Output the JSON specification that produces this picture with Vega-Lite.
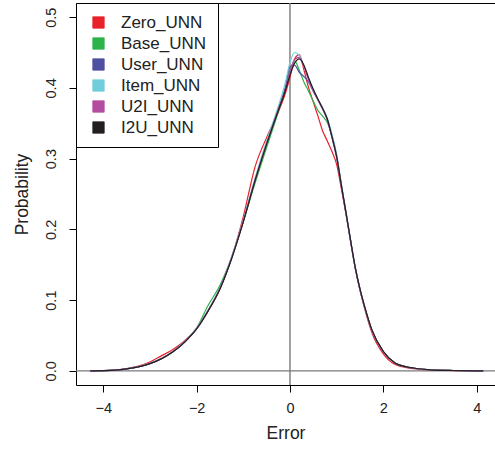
{
"$schema": "https://vega.github.io/schema/vega-lite/v6.json",
"width": 419, "height": 382,
"autosize": {"type": "none"},
"padding": {"left": 76, "top": 3, "right": 0, "bottom": 66},
"background": "white",
"config": {"view": {"stroke": null}, "font": "Liberation Sans",
 "axis": {"grid": false, "domainColor": "#000", "tickColor": "#000", "labelColor": "#222", "titleColor": "#222", "titleFontWeight": "normal", "labelFlush": false}},
"resolve": {"axis": {"x": "independent"}},
"layer": [
 {"data": {"values": [{}]}, "mark": {"type": "rule", "color": "#7a7a7a", "strokeWidth": 1.4},
  "encoding": {"y": {"datum": 0, "type": "quantitative"}}},
 {"data": {"values": [{}]}, "mark": {"type": "rule", "color": "#7a7a7a", "strokeWidth": 1.4},
  "encoding": {"x": {"datum": 0, "type": "quantitative", "axis": {"orient": "top", "labels": false, "ticks": false, "domain": true, "title": null}}}},
 {"data": {"values": [
{"m":"Zero_UNN","x":-4.28,"p":0},{"m":"Zero_UNN","x":-4.0,"p":0.0003},{"m":"Zero_UNN","x":-3.75,"p":0.0012},{"m":"Zero_UNN","x":-3.5,"p":0.0032},{"m":"Zero_UNN","x":-3.25,"p":0.0068},{"m":"Zero_UNN","x":-3.0,"p":0.0125},{"m":"Zero_UNN","x":-2.75,"p":0.0215},{"m":"Zero_UNN","x":-2.5,"p":0.0305},{"m":"Zero_UNN","x":-2.25,"p":0.043},{"m":"Zero_UNN","x":-2.0,"p":0.06},{"m":"Zero_UNN","x":-1.75,"p":0.085},{"m":"Zero_UNN","x":-1.5,"p":0.116},{"m":"Zero_UNN","x":-1.25,"p":0.16},{"m":"Zero_UNN","x":-1.0,"p":0.218},{"m":"Zero_UNN","x":-0.75,"p":0.288},{"m":"Zero_UNN","x":-0.5,"p":0.33},{"m":"Zero_UNN","x":-0.25,"p":0.366},{"m":"Zero_UNN","x":-0.1,"p":0.392},{"m":"Zero_UNN","x":0.0,"p":0.415},{"m":"Zero_UNN","x":0.1,"p":0.441},{"m":"Zero_UNN","x":0.2,"p":0.447},{"m":"Zero_UNN","x":0.3,"p":0.425},{"m":"Zero_UNN","x":0.4,"p":0.4},{"m":"Zero_UNN","x":0.5,"p":0.38},{"m":"Zero_UNN","x":0.6,"p":0.36},{"m":"Zero_UNN","x":0.7,"p":0.339},{"m":"Zero_UNN","x":0.8,"p":0.325},{"m":"Zero_UNN","x":0.9,"p":0.31},{"m":"Zero_UNN","x":1.0,"p":0.292},{"m":"Zero_UNN","x":1.1,"p":0.258},{"m":"Zero_UNN","x":1.2,"p":0.222},{"m":"Zero_UNN","x":1.3,"p":0.183},{"m":"Zero_UNN","x":1.4,"p":0.145},{"m":"Zero_UNN","x":1.5,"p":0.114},{"m":"Zero_UNN","x":1.6,"p":0.088},{"m":"Zero_UNN","x":1.75,"p":0.055},{"m":"Zero_UNN","x":2.0,"p":0.024},{"m":"Zero_UNN","x":2.25,"p":0.009},{"m":"Zero_UNN","x":2.5,"p":0.0045},{"m":"Zero_UNN","x":2.75,"p":0.0025},{"m":"Zero_UNN","x":3.0,"p":0.0013},{"m":"Zero_UNN","x":3.5,"p":0.0004},{"m":"Zero_UNN","x":4.0,"p":0.0001},{"m":"Zero_UNN","x":4.14,"p":0},
{"m":"Base_UNN","x":-4.28,"p":0},{"m":"Base_UNN","x":-4.0,"p":0.0003},{"m":"Base_UNN","x":-3.75,"p":0.001},{"m":"Base_UNN","x":-3.5,"p":0.0028},{"m":"Base_UNN","x":-3.25,"p":0.0058},{"m":"Base_UNN","x":-3.0,"p":0.0105},{"m":"Base_UNN","x":-2.75,"p":0.0175},{"m":"Base_UNN","x":-2.5,"p":0.0275},{"m":"Base_UNN","x":-2.25,"p":0.0415},{"m":"Base_UNN","x":-2.0,"p":0.061},{"m":"Base_UNN","x":-1.75,"p":0.093},{"m":"Base_UNN","x":-1.5,"p":0.121},{"m":"Base_UNN","x":-1.25,"p":0.161},{"m":"Base_UNN","x":-1.0,"p":0.211},{"m":"Base_UNN","x":-0.75,"p":0.265},{"m":"Base_UNN","x":-0.5,"p":0.316},{"m":"Base_UNN","x":-0.25,"p":0.366},{"m":"Base_UNN","x":-0.1,"p":0.399},{"m":"Base_UNN","x":0.0,"p":0.425},{"m":"Base_UNN","x":0.1,"p":0.438},{"m":"Base_UNN","x":0.2,"p":0.425},{"m":"Base_UNN","x":0.3,"p":0.408},{"m":"Base_UNN","x":0.4,"p":0.395},{"m":"Base_UNN","x":0.5,"p":0.381},{"m":"Base_UNN","x":0.6,"p":0.368},{"m":"Base_UNN","x":0.7,"p":0.36},{"m":"Base_UNN","x":0.8,"p":0.351},{"m":"Base_UNN","x":0.9,"p":0.333},{"m":"Base_UNN","x":1.0,"p":0.304},{"m":"Base_UNN","x":1.1,"p":0.262},{"m":"Base_UNN","x":1.2,"p":0.223},{"m":"Base_UNN","x":1.3,"p":0.183},{"m":"Base_UNN","x":1.4,"p":0.145},{"m":"Base_UNN","x":1.5,"p":0.115},{"m":"Base_UNN","x":1.6,"p":0.09},{"m":"Base_UNN","x":1.75,"p":0.058},{"m":"Base_UNN","x":2.0,"p":0.027},{"m":"Base_UNN","x":2.25,"p":0.011},{"m":"Base_UNN","x":2.5,"p":0.0055},{"m":"Base_UNN","x":2.75,"p":0.003},{"m":"Base_UNN","x":3.0,"p":0.0015},{"m":"Base_UNN","x":3.5,"p":0.0005},{"m":"Base_UNN","x":4.0,"p":0.0001},{"m":"Base_UNN","x":4.14,"p":0},
{"m":"User_UNN","x":-4.28,"p":0},{"m":"User_UNN","x":-4.0,"p":0.0003},{"m":"User_UNN","x":-3.75,"p":0.001},{"m":"User_UNN","x":-3.5,"p":0.0027},{"m":"User_UNN","x":-3.25,"p":0.0056},{"m":"User_UNN","x":-3.0,"p":0.0102},{"m":"User_UNN","x":-2.75,"p":0.0172},{"m":"User_UNN","x":-2.5,"p":0.0272},{"m":"User_UNN","x":-2.25,"p":0.0412},{"m":"User_UNN","x":-2.0,"p":0.0595},{"m":"User_UNN","x":-1.75,"p":0.0855},{"m":"User_UNN","x":-1.5,"p":0.1165},{"m":"User_UNN","x":-1.25,"p":0.1595},{"m":"User_UNN","x":-1.0,"p":0.2115},{"m":"User_UNN","x":-0.75,"p":0.2695},{"m":"User_UNN","x":-0.5,"p":0.3215},{"m":"User_UNN","x":-0.25,"p":0.37},{"m":"User_UNN","x":-0.1,"p":0.401},{"m":"User_UNN","x":0.0,"p":0.43},{"m":"User_UNN","x":0.1,"p":0.432},{"m":"User_UNN","x":0.2,"p":0.422},{"m":"User_UNN","x":0.3,"p":0.416},{"m":"User_UNN","x":0.4,"p":0.408},{"m":"User_UNN","x":0.5,"p":0.395},{"m":"User_UNN","x":0.6,"p":0.383},{"m":"User_UNN","x":0.7,"p":0.37},{"m":"User_UNN","x":0.8,"p":0.355},{"m":"User_UNN","x":0.9,"p":0.33},{"m":"User_UNN","x":1.0,"p":0.302},{"m":"User_UNN","x":1.1,"p":0.262},{"m":"User_UNN","x":1.2,"p":0.223},{"m":"User_UNN","x":1.3,"p":0.183},{"m":"User_UNN","x":1.4,"p":0.145},{"m":"User_UNN","x":1.5,"p":0.115},{"m":"User_UNN","x":1.6,"p":0.09},{"m":"User_UNN","x":1.75,"p":0.058},{"m":"User_UNN","x":2.0,"p":0.027},{"m":"User_UNN","x":2.25,"p":0.011},{"m":"User_UNN","x":2.5,"p":0.0055},{"m":"User_UNN","x":2.75,"p":0.003},{"m":"User_UNN","x":3.0,"p":0.0015},{"m":"User_UNN","x":3.5,"p":0.0005},{"m":"User_UNN","x":4.0,"p":0.0001},{"m":"User_UNN","x":4.14,"p":0},
{"m":"Item_UNN","x":-4.28,"p":0},{"m":"Item_UNN","x":-4.0,"p":0.0003},{"m":"Item_UNN","x":-3.75,"p":0.001},{"m":"Item_UNN","x":-3.5,"p":0.0029},{"m":"Item_UNN","x":-3.25,"p":0.006},{"m":"Item_UNN","x":-3.0,"p":0.0108},{"m":"Item_UNN","x":-2.75,"p":0.0178},{"m":"Item_UNN","x":-2.5,"p":0.0278},{"m":"Item_UNN","x":-2.25,"p":0.042},{"m":"Item_UNN","x":-2.0,"p":0.0605},{"m":"Item_UNN","x":-1.75,"p":0.0865},{"m":"Item_UNN","x":-1.5,"p":0.1175},{"m":"Item_UNN","x":-1.25,"p":0.161},{"m":"Item_UNN","x":-1.0,"p":0.2135},{"m":"Item_UNN","x":-0.75,"p":0.272},{"m":"Item_UNN","x":-0.5,"p":0.325},{"m":"Item_UNN","x":-0.25,"p":0.374},{"m":"Item_UNN","x":-0.1,"p":0.407},{"m":"Item_UNN","x":0.0,"p":0.436},{"m":"Item_UNN","x":0.1,"p":0.45},{"m":"Item_UNN","x":0.2,"p":0.446},{"m":"Item_UNN","x":0.3,"p":0.43},{"m":"Item_UNN","x":0.4,"p":0.413},{"m":"Item_UNN","x":0.5,"p":0.397},{"m":"Item_UNN","x":0.6,"p":0.384},{"m":"Item_UNN","x":0.7,"p":0.372},{"m":"Item_UNN","x":0.8,"p":0.357},{"m":"Item_UNN","x":0.9,"p":0.334},{"m":"Item_UNN","x":1.0,"p":0.306},{"m":"Item_UNN","x":1.1,"p":0.265},{"m":"Item_UNN","x":1.2,"p":0.225},{"m":"Item_UNN","x":1.3,"p":0.184},{"m":"Item_UNN","x":1.4,"p":0.146},{"m":"Item_UNN","x":1.5,"p":0.115},{"m":"Item_UNN","x":1.6,"p":0.09},{"m":"Item_UNN","x":1.75,"p":0.058},{"m":"Item_UNN","x":2.0,"p":0.027},{"m":"Item_UNN","x":2.25,"p":0.011},{"m":"Item_UNN","x":2.5,"p":0.0055},{"m":"Item_UNN","x":2.75,"p":0.003},{"m":"Item_UNN","x":3.0,"p":0.0015},{"m":"Item_UNN","x":3.5,"p":0.0005},{"m":"Item_UNN","x":4.0,"p":0.0001},{"m":"Item_UNN","x":4.14,"p":0},
{"m":"U2I_UNN","x":-4.28,"p":0},{"m":"U2I_UNN","x":-4.0,"p":0.0003},{"m":"U2I_UNN","x":-3.75,"p":0.001},{"m":"U2I_UNN","x":-3.5,"p":0.0028},{"m":"U2I_UNN","x":-3.25,"p":0.0057},{"m":"U2I_UNN","x":-3.0,"p":0.0104},{"m":"U2I_UNN","x":-2.75,"p":0.0174},{"m":"U2I_UNN","x":-2.5,"p":0.0274},{"m":"U2I_UNN","x":-2.25,"p":0.0414},{"m":"U2I_UNN","x":-2.0,"p":0.0598},{"m":"U2I_UNN","x":-1.75,"p":0.0858},{"m":"U2I_UNN","x":-1.5,"p":0.1168},{"m":"U2I_UNN","x":-1.25,"p":0.1598},{"m":"U2I_UNN","x":-1.0,"p":0.2118},{"m":"U2I_UNN","x":-0.75,"p":0.2698},{"m":"U2I_UNN","x":-0.5,"p":0.3218},{"m":"U2I_UNN","x":-0.25,"p":0.37},{"m":"U2I_UNN","x":-0.1,"p":0.398},{"m":"U2I_UNN","x":0.0,"p":0.424},{"m":"U2I_UNN","x":0.1,"p":0.44},{"m":"U2I_UNN","x":0.2,"p":0.443},{"m":"U2I_UNN","x":0.3,"p":0.43},{"m":"U2I_UNN","x":0.4,"p":0.411},{"m":"U2I_UNN","x":0.5,"p":0.396},{"m":"U2I_UNN","x":0.6,"p":0.383},{"m":"U2I_UNN","x":0.7,"p":0.37},{"m":"U2I_UNN","x":0.8,"p":0.355},{"m":"U2I_UNN","x":0.9,"p":0.33},{"m":"U2I_UNN","x":1.0,"p":0.302},{"m":"U2I_UNN","x":1.1,"p":0.262},{"m":"U2I_UNN","x":1.2,"p":0.223},{"m":"U2I_UNN","x":1.3,"p":0.183},{"m":"U2I_UNN","x":1.4,"p":0.145},{"m":"U2I_UNN","x":1.5,"p":0.115},{"m":"U2I_UNN","x":1.6,"p":0.09},{"m":"U2I_UNN","x":1.75,"p":0.058},{"m":"U2I_UNN","x":2.0,"p":0.027},{"m":"U2I_UNN","x":2.25,"p":0.011},{"m":"U2I_UNN","x":2.5,"p":0.0055},{"m":"U2I_UNN","x":2.75,"p":0.003},{"m":"U2I_UNN","x":3.0,"p":0.0015},{"m":"U2I_UNN","x":3.5,"p":0.0005},{"m":"U2I_UNN","x":4.0,"p":0.0001},{"m":"U2I_UNN","x":4.14,"p":0},
{"m":"I2U_UNN","x":-4.28,"p":0},{"m":"I2U_UNN","x":-4.0,"p":0.0003},{"m":"I2U_UNN","x":-3.75,"p":0.001},{"m":"I2U_UNN","x":-3.5,"p":0.0027},{"m":"I2U_UNN","x":-3.25,"p":0.0056},{"m":"I2U_UNN","x":-3.0,"p":0.0103},{"m":"I2U_UNN","x":-2.75,"p":0.0173},{"m":"I2U_UNN","x":-2.5,"p":0.0272},{"m":"I2U_UNN","x":-2.25,"p":0.041},{"m":"I2U_UNN","x":-2.0,"p":0.0592},{"m":"I2U_UNN","x":-1.75,"p":0.085},{"m":"I2U_UNN","x":-1.5,"p":0.1158},{"m":"I2U_UNN","x":-1.25,"p":0.1585},{"m":"I2U_UNN","x":-1.0,"p":0.2105},{"m":"I2U_UNN","x":-0.75,"p":0.2685},{"m":"I2U_UNN","x":-0.5,"p":0.3205},{"m":"I2U_UNN","x":-0.25,"p":0.368},{"m":"I2U_UNN","x":-0.1,"p":0.396},{"m":"I2U_UNN","x":0.0,"p":0.418},{"m":"I2U_UNN","x":0.1,"p":0.435},{"m":"I2U_UNN","x":0.2,"p":0.441},{"m":"I2U_UNN","x":0.3,"p":0.432},{"m":"I2U_UNN","x":0.4,"p":0.414},{"m":"I2U_UNN","x":0.5,"p":0.398},{"m":"I2U_UNN","x":0.6,"p":0.384},{"m":"I2U_UNN","x":0.7,"p":0.371},{"m":"I2U_UNN","x":0.8,"p":0.356},{"m":"I2U_UNN","x":0.9,"p":0.331},{"m":"I2U_UNN","x":1.0,"p":0.303},{"m":"I2U_UNN","x":1.1,"p":0.263},{"m":"I2U_UNN","x":1.2,"p":0.224},{"m":"I2U_UNN","x":1.3,"p":0.184},{"m":"I2U_UNN","x":1.4,"p":0.146},{"m":"I2U_UNN","x":1.5,"p":0.116},{"m":"I2U_UNN","x":1.6,"p":0.091},{"m":"I2U_UNN","x":1.75,"p":0.059},{"m":"I2U_UNN","x":2.0,"p":0.0275},{"m":"I2U_UNN","x":2.25,"p":0.0112},{"m":"I2U_UNN","x":2.5,"p":0.0056},{"m":"I2U_UNN","x":2.75,"p":0.003},{"m":"I2U_UNN","x":3.0,"p":0.0015},{"m":"I2U_UNN","x":3.5,"p":0.0005},{"m":"I2U_UNN","x":4.0,"p":0.0001},{"m":"I2U_UNN","x":4.14,"p":0}
 ]},
  "mark": {"type": "line", "strokeWidth": 1.2, "interpolate": "monotone"},
  "encoding": {
   "x": {"field": "x", "type": "quantitative", "scale": {"domain": [-4.585, 4.393], "nice": false, "zero": false},
    "axis": {"orient": "bottom", "values": [-4, -2, 0, 2, 4], "format": "d", "tickSize": 7, "labelFontSize": 14.5, "labelPadding": 9, "title": "Error", "titleFontSize": 17.5, "titlePadding": 10}},
   "y": {"field": "p", "type": "quantitative", "scale": {"domain": [-0.02, 0.52], "nice": false, "zero": false},
    "axis": {"values": [0, 0.1, 0.2, 0.3, 0.4, 0.5], "format": ".1f", "tickSize": 7, "labelFontSize": 14.5, "labelAngle": 270, "labelAlign": "center", "labelBaseline": "bottom", "labelPadding": 11, "title": "Probability", "titleFontSize": 17.5, "titlePadding": 12}},
   "color": {"field": "m", "type": "nominal", "sort": null,
    "scale": {"domain": ["Zero_UNN", "Base_UNN", "User_UNN", "Item_UNN", "U2I_UNN", "I2U_UNN"], "range": ["#E8212A", "#2DB34A", "#4E4FA0", "#70CDDB", "#B24DA0", "#231F20"]},
    "legend": {"title": null, "orient": "top-left", "offset": 0, "padding": 11, "strokeColor": "#000", "fillColor": "#fff", "symbolType": "square", "symbolSize": 130, "symbolOffset": 3, "labelOffset": 14, "labelFontSize": 17, "labelColor": "#222", "rowPadding": 3, "cornerRadius": 0,
     "encode": {"symbols": {"update": {"fill": {"scale": "color", "field": "value"}, "fillOpacity": {"value": 1}, "stroke": {"value": "#333"}, "strokeWidth": {"value": 0.8}}}}}}
  }}
]
}
